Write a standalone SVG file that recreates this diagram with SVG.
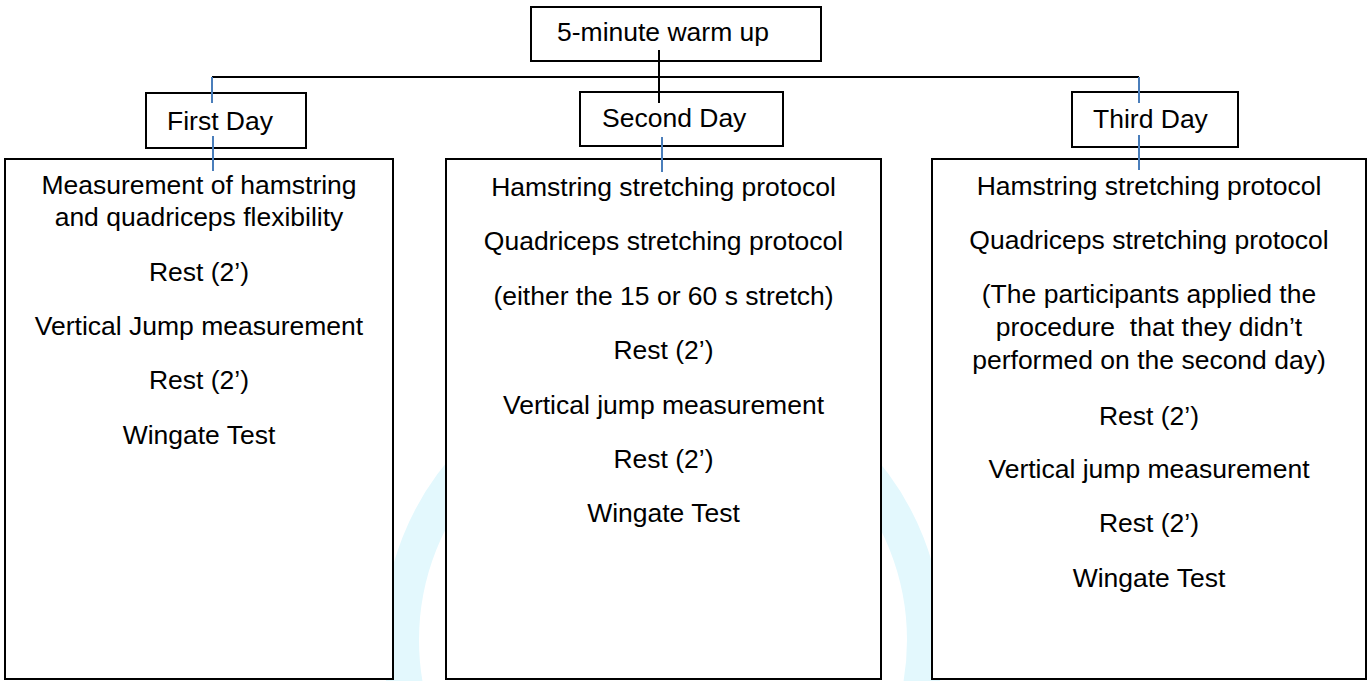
<svg xmlns="http://www.w3.org/2000/svg" width="1368" height="681" viewBox="0 0 1368 681">
<style>
  .box { fill: #ffffff; stroke: #000000; stroke-width: 2; }
  .t { font-family: "Liberation Sans", Arial, sans-serif; font-size: 26.5px; fill: #000000; }
  .c { text-anchor: middle; }
  .blk { stroke: #000000; stroke-width: 2; fill: none; }
  .blu { stroke: #4a7ebb; stroke-width: 2; fill: none; }
</style>
<rect width="1368" height="681" fill="#ffffff"/>
<g id="watermark">
  <circle cx="663" cy="640" r="262" fill="none" stroke="#e3f8fd" stroke-width="36"/>
</g>
<g id="warmup">
  <rect class="box" x="531" y="7" width="290" height="54"/>
  <text class="t" x="557" y="41">5-minute warm up</text>
</g>
<g id="day1">
  <rect class="box" x="146" y="93" width="160" height="55"/>
  <text class="t" x="167" y="130">First Day</text>
</g>
<g id="day2">
  <rect class="box" x="580" y="92" width="203" height="54"/>
  <text class="t" x="602" y="127">Second Day</text>
</g>
<g id="day3">
  <rect class="box" x="1072" y="92" width="166" height="55"/>
  <text class="t" x="1093" y="128">Third Day</text>
</g>
<g id="box1">
  <rect class="box" x="5" y="159" width="388" height="520"/>
  <text class="t c" x="199" y="194">Measurement of hamstring</text>
  <text class="t c" x="199" y="226">and quadriceps flexibility</text>
  <text class="t c" x="199" y="281">Rest (2’)</text>
  <text class="t c" x="199" y="335">Vertical Jump measurement</text>
  <text class="t c" x="199" y="389">Rest (2’)</text>
  <text class="t c" x="199" y="444">Wingate Test</text>
</g>
<g id="box2">
  <rect class="box" x="446" y="159" width="435" height="520"/>
  <text class="t c" x="663.5" y="196">Hamstring stretching protocol</text>
  <text class="t c" x="663.5" y="250">Quadriceps stretching protocol</text>
  <text class="t c" x="663.5" y="305">(either the 15 or 60 s stretch)</text>
  <text class="t c" x="663.5" y="359">Rest (2’)</text>
  <text class="t c" x="663.5" y="414">Vertical jump measurement</text>
  <text class="t c" x="663.5" y="468">Rest (2’)</text>
  <text class="t c" x="663.5" y="522">Wingate Test</text>
</g>
<g id="box3">
  <rect class="box" x="932" y="159" width="434" height="520"/>
  <text class="t c" x="1149" y="195">Hamstring stretching protocol</text>
  <text class="t c" x="1149" y="249">Quadriceps stretching protocol</text>
  <text class="t c" x="1149" y="303">(The participants applied the</text>
  <text class="t c" x="1149" y="336">procedure&#160; that they didn’t</text>
  <text class="t c" x="1149" y="369">performed on the second day)</text>
  <text class="t c" x="1149" y="425">Rest (2’)</text>
  <text class="t c" x="1149" y="478">Vertical jump measurement</text>
  <text class="t c" x="1149" y="532">Rest (2’)</text>
  <text class="t c" x="1149" y="587">Wingate Test</text>
</g>
<g id="connectors">
  <line class="blk" x1="212" y1="77" x2="1139" y2="77"/>
  <line class="blk" x1="659" y1="50" x2="659" y2="103"/>
  <line class="blu" x1="212" y1="77" x2="212" y2="103"/>
  <line class="blu" x1="1139" y1="77" x2="1139" y2="103"/>
  <line class="blu" x1="213" y1="136" x2="213" y2="171"/>
  <line class="blu" x1="662" y1="137" x2="662" y2="172"/>
  <line class="blu" x1="1139" y1="135" x2="1139" y2="170"/>
</g>
</svg>
